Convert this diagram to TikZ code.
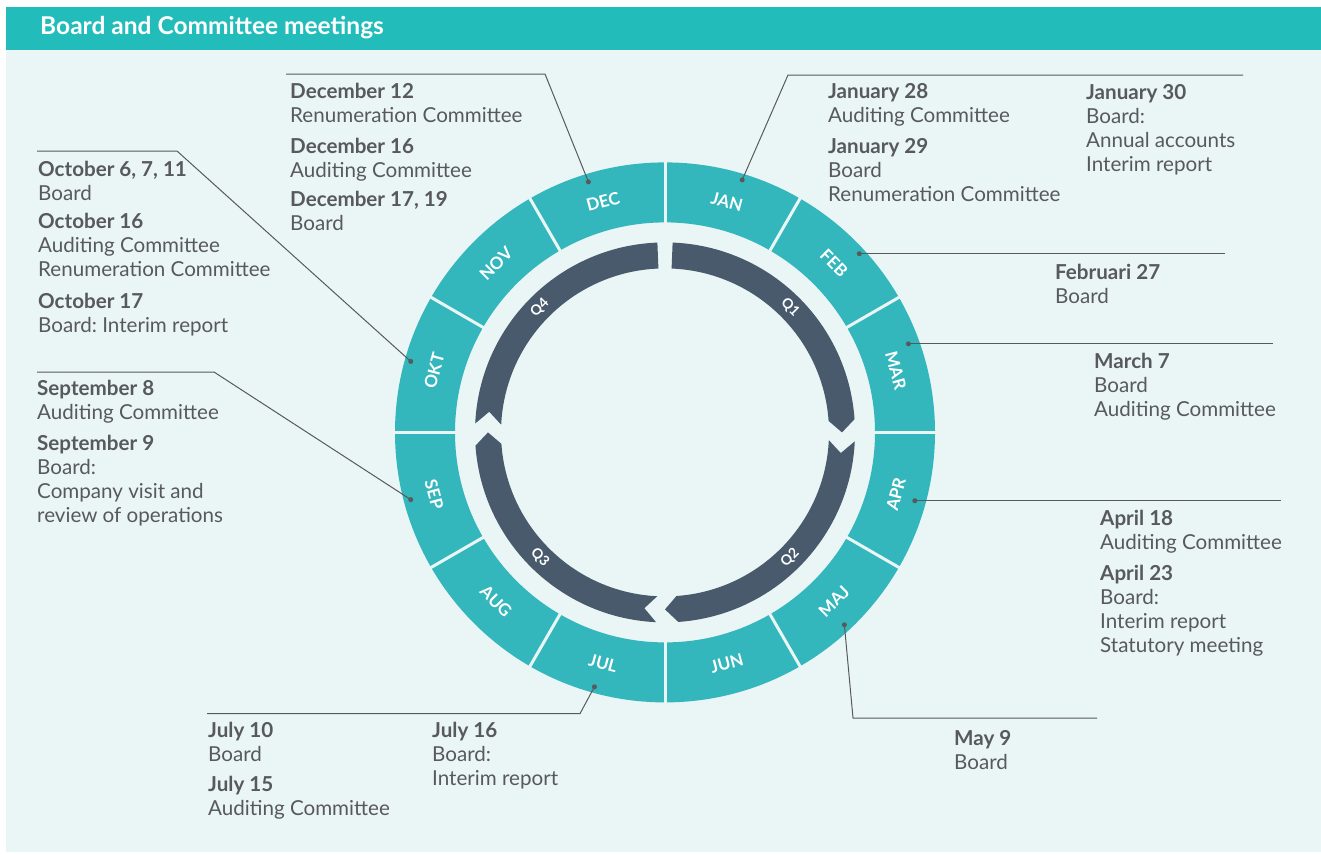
\documentclass[tikz,border=0pt]{standalone}
\usepackage{fontspec}
\setmainfont{Lato}
\usetikzlibrary{positioning}
\frenchspacing

\definecolor{headteal}{HTML}{22BDBB}
\definecolor{ringteal}{HTML}{33B6BC}
\definecolor{slate}{HTML}{485A6B}
\definecolor{mint}{HTML}{EAF6F6}
\definecolor{ink}{HTML}{58595B}

% a bold date with its meetings below, first baseline on the node's base
\newcommand\meeting[2]{\begin{tabular}[t]{@{}l@{}}\textbf{#1}\\#2\end{tabular}}

\tikzset{
  entry/.style={anchor=base west, inner sep=0pt, text=ink,
    font=\fontsize{20.6}{24}\selectfont},
  month/.style={text=white, inner sep=0pt, font=\bfseries\fontsize{17}{17}\selectfont},
  qlabel/.style={text=white, inner sep=0pt, font=\bfseries\fontsize{14}{14}\selectfont},
  quarter/.style={fill=slate},
  dot/.style={circle, fill=ink, inner sep=0pt, minimum size=5pt},
  leader/.style={draw=ink, line width=1pt}
}

\begin{document}
\begin{tikzpicture}[x=1pt, y=1pt]

        \useasboundingbox (0,0) rectangle (1321,-854);
        \fill[white] (0,0) rectangle (1321,-854);
        \fill[mint] (6,-49) rectangle (1321,-852);
        \fill[headteal] (6,-7) rectangle (1321,-49.5);
        \node[anchor=base west, inner sep=0pt, text=white,
          font=\bfseries\fontsize{24.5}{24.5}\selectfont] (title) at (40,-34.3)
          {Board and Committee meetings};

        % Scope centred on the year wheel
        \begin{scope}[shift={(665,-432.4)}]
            \fill[ringteal, even odd rule] (0,0) circle (270pt) (0,0) circle (210pt);
            \foreach \a in {0,30,...,330}
            \draw[mint, line width=3pt] (\a:208pt) -- (\a:272pt);

            \foreach \m/\a/\r in {JAN/75/-15, FEB/45/-45, MAR/15/-75,
                APR/-15/75, MAJ/-45/45, JUN/-75/15, JUL/-105/-15,
                AUG/-135/-45, SEP/-165/-75, OKT/165/75, NOV/135/45, DEC/105/15}
            \node[month, rotate=\r] (\m) at (\a:239pt) {\m};

            % quarter arrows, clockwise from the top
            \fill[quarter] (87.7:190pt) arc[start angle=87.7, end angle=4, radius=190pt]
              -- (0:177pt) -- (4:164pt) arc[start angle=4, end angle=87.7, radius=164pt] -- cycle;
            \fill[quarter] (-2.7:190pt) arc[start angle=-2.7, end angle=-86, radius=190pt]
              -- (-90:177pt) -- (-86:164pt) arc[start angle=-86, end angle=-2.7, radius=164pt]
              -- (-6.7:177pt) -- cycle;
            \fill[quarter] (-92.7:190pt) arc[start angle=-92.7, end angle=-176, radius=190pt]
              -- (-180:177pt) -- (-176:164pt) arc[start angle=-176, end angle=-92.7, radius=164pt]
              -- (-96.7:177pt) -- cycle;
            \fill[quarter] (177.3:190pt) arc[start angle=177.3, end angle=92.3, radius=190pt]
              -- (92.3:164pt) arc[start angle=92.3, end angle=177.3, radius=164pt]
              -- (173.3:177pt) -- cycle;

            \foreach \q/\a/\r in {Q1/45/-45, Q2/-45/45, Q3/-135/-45, Q4/135/45}
            \node[qlabel, rotate=\r] (\q) at (\a:177pt) {\q};

            % dots where the leaders start
            \node[dot] (decdot) at (107:262pt) {};
            \node[dot] (jandot) at (73:264pt) {};
            \node[dot] (febdot) at (42.6:264pt) {};
            \node[dot] (mardot) at (20:259pt) {};
            \node[dot] (aprdot) at (-15.3:259pt) {};
            \node[dot] (majdot) at (-47:263pt) {};
            \node[dot] (juldot) at (-105.5:264pt) {};
            \node[dot] (sepdot) at (-165.2:263pt) {};
            \node[dot] (oktdot) at (164.4:264pt) {};
        \end{scope}

        % leader corners and ends
        \coordinate (deccorner) at (545,-74);
        \coordinate (decend) at (286,-74);
        \coordinate (jancorner) at (788,-75);
        \coordinate (janend) at (1243,-75);
        \coordinate (febend) at (1225,0);
        \coordinate (marend) at (1273,0);
        \coordinate (aprend) at (1281,0);
        \coordinate (majcorner) at (853,-718);
        \coordinate (majend) at (1097,-718);
        \coordinate (julcorner) at (580,-713.6);
        \coordinate (julend) at (207,-713.6);
        \coordinate (sepcorner) at (214,-372);
        \coordinate (sepend) at (37,-372);
        \coordinate (oktcorner) at (177,-151);
        \coordinate (oktend) at (37,-151);

        \begin{scope}[leader]
            \draw (decdot.center) -- (deccorner) -- (decend);
            \draw (jandot.center) -- (jancorner) -- (janend);
            \draw (febdot.center) -- (febdot.center -| febend);
            \draw (mardot.center) -- (mardot.center -| marend);
            \draw (aprdot.center) -- (aprdot.center -| aprend);
            \draw (majdot.center) -- (majcorner) -- (majend);
            \draw (juldot.center) -- (julcorner) -- (julend);
            \draw (sepdot.center) -- (sepcorner) -- (sepend);
            \draw (oktdot.center) -- (oktcorner) -- (oktend);
        \end{scope}

        % meeting texts
        \node[entry] (dec12) at (290,-98) {\meeting{December 12}{Renumeration Committee}};
        \node[entry] (dec16) at (290,-153) {\meeting{December 16}{Auditing Committee}};
        \node[entry] (dec17) at (290,-206) {\meeting{December 17, 19}{Board}};

        \node[entry] (jan28) at (828,-98) {\meeting{January 28}{Auditing Committee}};
        \node[entry] (jan29) at (828,-153) {\meeting{January 29}{Board\\Renumeration Committee}};
        \node[entry] (jan30) at (1086,-99) {\meeting{January 30}{Board:\\Annual accounts\\Interim report}};

        \node[entry] (feb27) at (1055,-279) {\meeting{Februari 27}{Board}};
        \node[entry] (mar7) at (1094,-368) {\meeting{March 7}{Board\\Auditing Committee}};

        \node[entry] (apr18) at (1100,-525) {\meeting{April 18}{Auditing Committee}};
        \node[entry] (apr23) at (1100,-580) {\meeting{April 23}{Board:\\Interim report\\Statutory meeting}};

        \node[entry] (may9) at (954,-745) {\meeting{May 9}{Board}};

        \node[entry] (jul10) at (208,-737) {\meeting{July 10}{Board}};
        \node[entry] (jul15) at (208,-791) {\meeting{July 15}{Auditing Committee}};
        \node[entry] (jul16) at (432,-737) {\meeting{July 16}{Board:\\Interim report}};

        \node[entry] (sep8) at (37,-395) {\meeting{September 8}{Auditing Committee}};
        \node[entry] (sep9) at (37,-450) {\meeting{September 9}{Board:\\Company visit and\\review of operations}};

        \node[entry] (oct6) at (38,-176) {\meeting{October 6, 7, 11}{Board}};
        \node[entry] (oct16) at (38,-228) {\meeting{October 16}{Auditing Committee\\Renumeration Committee}};
        \node[entry] (oct17) at (38,-308) {\meeting{October 17}{Board: Interim report}};

\end{tikzpicture}
\end{document}
